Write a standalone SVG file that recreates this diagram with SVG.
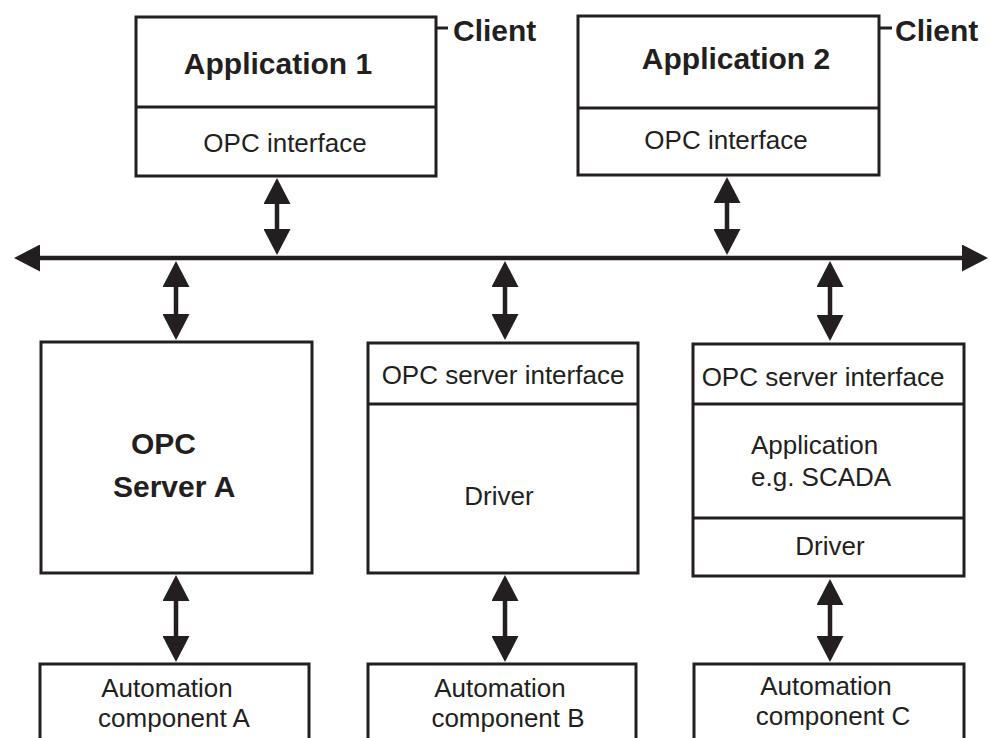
<svg xmlns="http://www.w3.org/2000/svg" width="990" height="738" viewBox="0 0 990 738">
<style>
.box{fill:#fff;stroke:#231f20;stroke-width:3}
.div{stroke:#231f20;stroke-width:3}
.t{font-family:"Liberation Sans",Arial,sans-serif;font-size:26px;fill:#231f20}
.b{font-family:"Liberation Sans",Arial,sans-serif;font-size:30px;font-weight:bold;fill:#231f20}
.c{text-anchor:middle}
.conn{stroke:#231f20;stroke-width:4.5;fill:none;marker-start:url(#ah);marker-end:url(#ah)}
</style>
<defs>
<marker id="ah" markerUnits="userSpaceOnUse" viewBox="0 0 26 27" markerWidth="26" markerHeight="27" refX="16" refY="13.5" orient="auto-start-reverse">
<path d="M0,0 L26,13.5 L0,27 z" fill="#231f20"/>
</marker>
</defs>
<rect width="990" height="738" fill="#fff"/>
<g id="connectors">
<line class="conn" x1="24" y1="258" x2="978" y2="258"/>
<line class="conn" x1="277" y1="188" x2="277" y2="245"/>
<line class="conn" x1="727" y1="187" x2="727" y2="245"/>
<line class="conn" x1="176" y1="271" x2="176" y2="330"/>
<line class="conn" x1="505" y1="271" x2="505" y2="330"/>
<line class="conn" x1="830" y1="271" x2="830" y2="331"/>
<line class="conn" x1="176" y1="585" x2="176" y2="652"/>
<line class="conn" x1="505" y1="585" x2="505" y2="652"/>
<line class="conn" x1="830" y1="589" x2="830" y2="652"/>
</g>
<g id="app1">
<rect class="box" x="136" y="17" width="300" height="159"/>
<line class="div" x1="136" y1="107" x2="436" y2="107"/>
<text class="b c" x="278" y="74">Application 1</text>
<text class="t c" x="285" y="152">OPC interface</text>
<line class="div" x1="436" y1="28" x2="448" y2="28"/>
<text class="b" x="453" y="41">Client</text>
</g>
<g id="app2">
<rect class="box" x="578" y="16" width="301" height="159"/>
<line class="div" x1="578" y1="108" x2="879" y2="108"/>
<text class="b c" x="736" y="69">Application 2</text>
<text class="t c" x="726" y="149">OPC interface</text>
<line class="div" x1="879" y1="28" x2="892" y2="28"/>
<text class="b" x="895" y="41">Client</text>
</g>
<g id="serverA">
<rect class="box" x="41" y="342" width="271" height="231"/>
<text class="b" x="131" y="454">OPC</text>
<text class="b" x="113" y="497">Server A</text>
</g>
<g id="serverB">
<rect class="box" x="368" y="343" width="270" height="230"/>
<line class="div" x1="368" y1="404" x2="638" y2="404"/>
<text class="t c" x="503" y="384">OPC server interface</text>
<text class="t c" x="499" y="505">Driver</text>
</g>
<g id="serverC">
<rect class="box" x="693" y="344" width="271" height="232"/>
<line class="div" x1="693" y1="404" x2="964" y2="404"/>
<line class="div" x1="693" y1="518" x2="964" y2="518"/>
<text class="t c" x="823" y="386">OPC server interface</text>
<text class="t" x="751" y="454">Application</text>
<text class="t" x="751" y="486">e.g. SCADA</text>
<text class="t c" x="830" y="555">Driver</text>
</g>
<g id="compA">
<rect class="box" x="40" y="664" width="269" height="100"/>
<text class="t c" x="167" y="697">Automation</text>
<text class="t c" x="174" y="727">component A</text>
</g>
<g id="compB">
<rect class="box" x="368" y="664" width="268" height="100"/>
<text class="t c" x="500" y="697">Automation</text>
<text class="t c" x="508" y="727">component B</text>
</g>
<g id="compC">
<rect class="box" x="694" y="664" width="270" height="100"/>
<text class="t c" x="826" y="695">Automation</text>
<text class="t c" x="833" y="725">component C</text>
</g>
</svg>
